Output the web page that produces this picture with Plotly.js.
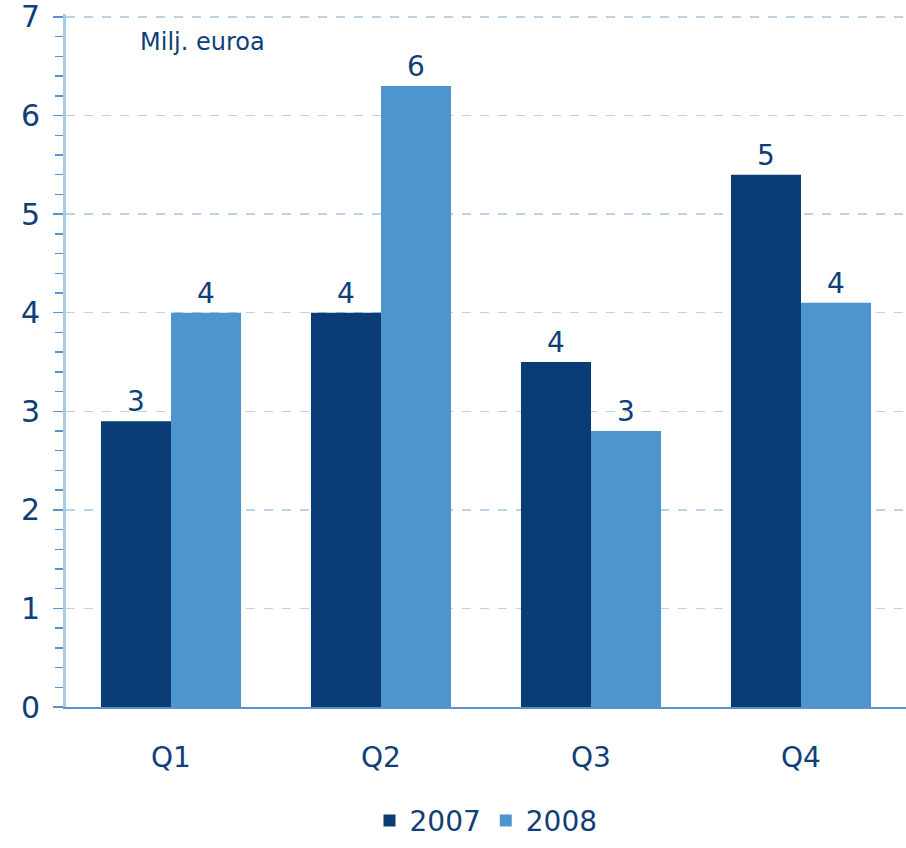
<!DOCTYPE html>
<html>
<head>
<meta charset="utf-8">
<script src="https://cdn.plot.ly/plotly-3.0.1.min.js"></script>
<style>html,body{margin:0;padding:0;background:#fff;}#chart{width:906px;height:848px;}</style>
</head>
<body>
<div id="chart"></div>
<script>
const categories = ['Q1', 'Q2', 'Q3', 'Q4'];
const values2007 = [2.9, 4.0, 3.5, 5.4];
const values2008 = [4.0, 6.3, 2.8, 4.1];
const seriesNames = ['2007', '2008'];
const unitLabel = 'Milj. euroa';

const textColor = '#0e3f78';
const font = 'DejaVu Sans, Verdana, sans-serif';

const traces = [
  {
    type: 'bar', name: seriesNames[0], x: categories, y: values2007,
    marker: {color: '#0a3c75'},
    texttemplate: '%{y:.0f}', textposition: 'outside', cliponaxis: false,
    textfont: {family: font, size: 28, color: textColor},
    hoverinfo: 'x+y'
  },
  {
    type: 'bar', name: seriesNames[1], x: categories, y: values2008,
    marker: {color: '#4e95cf'},
    texttemplate: '%{y:.0f}', textposition: 'outside', cliponaxis: false,
    textfont: {family: font, size: 28, color: textColor},
    hoverinfo: 'x+y'
  }
];

const layout = {
  width: 906, height: 848,
  margin: {l: 66, r: 0, t: 14, b: 141, autoexpand: false},
  paper_bgcolor: '#ffffff', plot_bgcolor: '#ffffff',
  font: {family: font, color: textColor, size: 28},
  barmode: 'group', bargap: 0.333, bargroupgap: 0,
  showlegend: true,
  legend: {orientation: 'h', x: 0.5, xanchor: 'center', y: -0.128, yanchor: 'top',
           font: {family: font, size: 28, color: textColor}, itemwidth: 30, traceorder: 'normal'},
  xaxis: {
    type: 'category', showline: true, linecolor: '#5a92cc', linewidth: 2,
    ticks: '', showgrid: false, ticklabelstandoff: 24, automargin: false,
    tickfont: {family: font, size: 28, color: textColor}
  },
  yaxis: {
    range: [0, 7.03], dtick: 1, tick0: 0, showline: true, linecolor: '#a8cbe8', linewidth: 3,
    ticks: 'outside', ticklen: 10, tickcolor: '#5a92cc', tickwidth: 1.5, automargin: false,
    showgrid: true, gridcolor: '#b9d3ec', griddash: 'dash', gridwidth: 1.5,
    zeroline: false, ticklabelstandoff: 7, ticklabeloverflow: 'allow',
    tickfont: {family: font, size: 30, color: textColor},
    minor: {dtick: 0.2, ticks: 'outside', ticklen: 8, tickcolor: '#5a92cc', tickwidth: 1.5, showgrid: false}
  },
  annotations: [{
    text: unitLabel, xref: 'paper', yref: 'paper', x: 0.086, y: 0.959,
    xanchor: 'left', yanchor: 'middle', showarrow: false,
    font: {family: font, size: 24, color: textColor}
  }]
};

Plotly.newPlot('chart', traces, layout, {displayModeBar: false, staticPlot: true});
</script>
</body>
</html>
